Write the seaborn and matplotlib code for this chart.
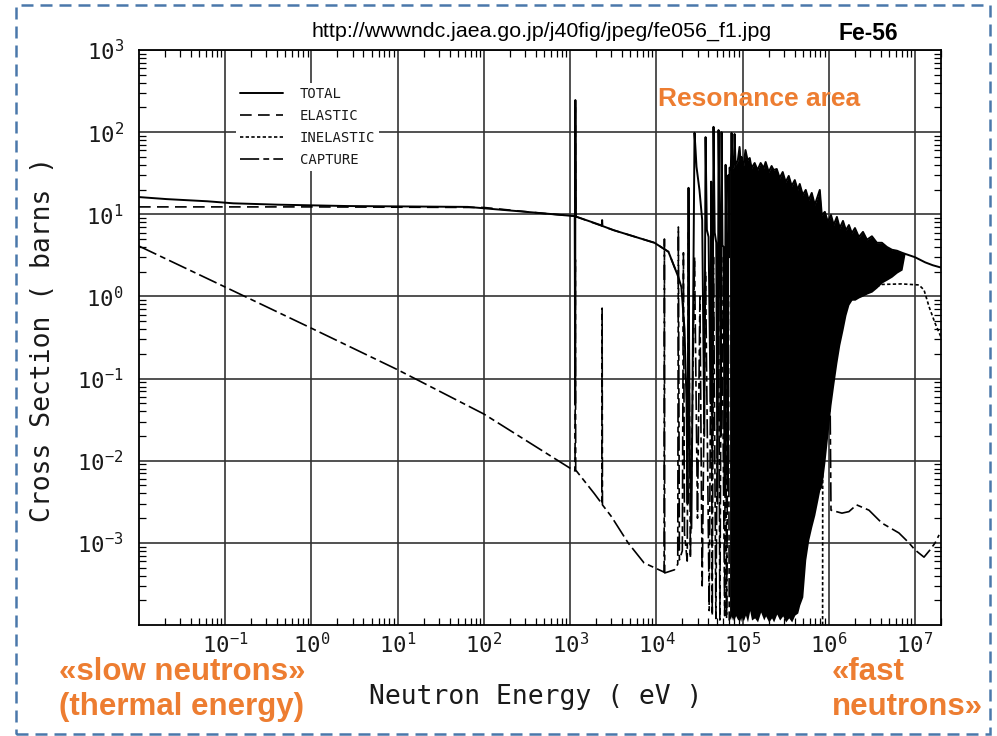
import numpy as np
import matplotlib
matplotlib.use("Agg")
import matplotlib.pyplot as plt
from matplotlib import ticker
from matplotlib.patches import Rectangle
import seaborn as sns

# ---------------- Fe-56 neutron cross sections (energy in eV, sigma in barns) -------------

# total, thermal / epithermal range up to the 24 keV window
total_low_e = [1e-2, 2.1e-2, 6.2e-2, 0.124, 0.40, 2.6, 65, 425, 1.0e3, 1.13e3, 1.145e3, 1.15e3, 1.16e3,
               2.33e3, 2.35e3, 2.37e3, 3.2e3, 9.5e3, 1.38e4, 1.62e4, 1.8e4, 1.95e4]
total_low_xs = [16.2, 15.3, 14.4, 13.6, 13.1, 12.6, 12.3, 10.4, 9.6, 9.5, 0.05, 246, 9.4,
                7.3, 8.5, 7.2, 6.4, 4.5, 3.5, 2.28, 1.72, 1.30]

# total, resolved resonances 20 - 70 keV (interference dips and peaks)
res_e = [2.12e4, 2.24e4, 2.30e4, 2.36e4, 2.42e4, 2.55e4, 2.77e4, 2.85e4, 2.92e4, 3.16e4,
         3.40e4, 3.60e4, 3.72e4, 3.85e4, 4.03e4, 4.25e4, 4.32e4, 4.45e4, 4.60e4, 4.75e4,
         4.95e4, 5.12e4, 5.26e4, 5.45e4, 5.58e4, 5.70e4, 5.85e4, 6.01e4, 6.20e4, 6.35e4,
         6.52e4, 6.70e4, 6.85e4, 7.00e4]
res_xs = [0.40, 0.05, 0.003, 21, 0.02, 0.0015, 98, 60, 38, 19.8,
          8.5, 0.02, 87, 6.5, 5.3, 0.05, 25, 0.01, 116, 6.0,
          4.5, 0.003, 106, 4.2, 0.02, 100, 4.2, 4.0, 0.004, 40,
          3.0, 0.005, 30, 3.0]

# dense resonance band 70 keV - 7.7 MeV: upper and lower envelope of the oscillations
core_e = [7.06e4, 7.30e4, 7.45e4, 7.60e4, 7.90e4, 8.07e4, 8.30e4, 8.80e4, 9.22e4, 9.50e4,
          9.73e4, 1.00e5,
          1.03e5, 1.08e5, 1.14e5, 1.21e5, 1.27e5, 1.38e5, 1.49e5, 1.62e5, 1.76e5, 1.85e5,
          2.01e5, 2.17e5, 2.29e5, 2.49e5, 2.69e5, 2.92e5, 3.16e5, 3.43e5, 3.71e5, 4.03e5,
          4.36e5, 4.60e5, 4.99e5, 5.40e5, 5.85e5, 6.34e5, 6.88e5, 7.45e5, 7.86e5, 8.29e5,
          8.99e5, 9.74e5, 1.06e6, 1.14e6, 1.24e6, 1.34e6, 1.46e6, 1.58e6, 1.71e6, 1.85e6,
          2.01e6, 2.23e6, 2.49e6, 2.77e6, 3.16e6, 3.61e6, 4.13e6, 4.72e6, 5.40e6, 6.18e6,
          7.07e6, 7.66e6]
core_hi = [37, 35, 98, 36, 38, 95, 40, 45, 66, 42,
           50, 40,
           39.8, 60.6, 45.8, 48.4, 36.6, 42.1, 34.6, 42.1, 36.6, 43.3,
           32.7, 38.7, 34.6, 35.6, 27.7, 32.7, 24.7, 29.3, 22.1, 26.1,
           19.8, 23.4, 17.2, 19.8, 14.9, 18.2, 13.0, 16.7, 19.8, 9.8,
           10.7, 8.1, 9.8, 7.4, 9.3, 6.8, 8.3, 6.4, 7.4, 5.9,
           6.8, 5.3, 6.1, 4.9, 5.4, 4.5, 4.5, 4.0, 3.7, 3.6,
           3.4, 3.3]
core_lo = [1.2e-4, 1.3e-4, 1.15e-4, 1.25e-4, 1.1e-4, 1.2e-4, 1.3e-4, 1.15e-4, 1.2e-4, 1.1e-4,
           1.25e-4, 1.15e-4,
           1.15e-4, 1.32e-4, 1.09e-4, 1.5e-4, 1.15e-4, 1.22e-4, 1.09e-4, 1.44e-4, 1.15e-4, 1.29e-4,
           1.09e-4, 1.22e-4, 1.09e-4, 1.36e-4, 1.15e-4, 1.29e-4, 1.09e-4, 1.22e-4, 1.09e-4, 1.32e-4,
           1.40e-4, 1.75e-4, 2.2e-4, 6.2e-4, 1.08e-3, 1.56e-3, 2.18e-3, 3.3e-3, 4.4e-3, 4.8e-3,
           9.4e-3, 0.0206, 0.0476, 0.0835, 0.155, 0.256, 0.39, 0.59, 0.79, 0.90,
           0.90, 0.96, 1.01, 1.07, 1.13, 1.27, 1.46, 1.58, 1.72, 1.93,
           2.1, 3.3]

# total, smooth fast-neutron range
fast_e = [1.0e7, 1.31e7, 1.6e7, 1.9e7, 2.0e7]
fast_xs = [3.0, 2.6, 2.4, 2.28, 2.25]

# elastic scattering
elastic_e = [1e-2, 0.1, 1, 10, 100, 425, 1.0e3, 1.14e3, 1.15e3, 1.16e3, 3.2e3, 9.5e3, 1.38e4, 1.62e4, 1.8e4]
elastic_xs = [12.3, 12.3, 12.3, 12.2, 12.1, 10.4, 9.6, 9.5, 240, 9.4, 6.4, 4.5, 3.5, 2.28, 1.72]

# inelastic scattering (threshold 847 keV)
inelastic_e = [8.47e5, 8.5e5, 9.0e5, 1.2e6, 1.6e6, 2.2e6, 3.0e6, 4.13e6, 7.0e6, 1.11e7, 1.27e7, 1.46e7, 1.71e7, 2.0e7]
inelastic_xs = [1.0e-4, 0.01, 0.3, 0.6, 0.85, 1.0, 1.2, 1.4, 1.42, 1.38, 1.2, 0.74, 0.47, 0.32]

# radiative capture
capture_low_e = [1e-2, 0.1, 1, 10, 100, 500, 1.0e3, 1.14e3, 1.15e3, 1.16e3, 1.9e3, 2.33e3, 2.35e3, 2.37e3, 3.0e3,
                 4.7e3, 7.2e3, 1.23e4, 1.24e4, 1.25e4, 1.62e4, 1.77e4, 1.80e4, 1.85e4, 2.00e4]
capture_low_xs = [4.1, 1.30, 0.41, 0.128, 0.037, 0.0128, 0.0081, 0.0075, 2.8, 0.0077, 0.0040, 0.0030, 0.72, 0.0029, 0.0021,
                  0.0010, 5.7e-4, 4.4e-4, 5.0, 4.3e-4, 4.7e-4, 5.5e-4, 7.0, 6.2e-4, 8.0e-4]
capture_res_e = [2.06e4, 2.12e4, 2.28e4, 2.36e4, 2.48e4, 2.77e4, 3.0e4, 3.2e4, 3.4e4, 3.72e4,
                 4.1e4, 4.32e4, 4.45e4, 4.60e4, 4.9e4, 5.26e4, 5.45e4, 5.70e4, 6.2e4, 6.35e4,
                 6.52e4, 6.85e4, 7.0e4, 1.03e6]
capture_res_xs = [3.4, 1.3e-3, 6.0e-4, 6.0, 6.5e-4, 3.0, 2.0e-3, 1.0, 3.0e-4, 2.0,
                  1.5e-4, 1.5, 1.3e-4, 3.0, 1.2e-4, 2.5, 1.15e-4, 3.0, 1.3e-4, 2.0,
                  1.2e-4, 1.0, 1.15e-4, 0.09]
capture_fast_e = [1.06e6, 1.42e6, 1.71e6, 2.10e6, 2.92e6, 4.13e6, 6.5e6, 8.5e6, 1.0e7, 1.27e7, 1.49e7, 1.71e7, 1.9e7]
capture_fast_xs = [0.0025, 0.0023, 0.0024, 0.0029, 0.0025, 0.00174, 0.00132, 1.0e-3, 8.2e-4, 6.7e-4, 8.2e-4, 1.0e-3, 1.25e-3]

# axis decades that carry a label
x_label_exponents = list(range(-1, 8))
y_label_exponents = list(range(-3, 4))

series_labels = ["TOTAL", "ELASTIC", "INELASTIC", "CAPTURE"]

# ---------------------------------------------------------------------------------------

total_e = total_low_e + res_e + core_e + fast_e
total_xs = total_low_xs + res_xs + core_hi + fast_xs
capture_e = capture_low_e + capture_res_e + capture_fast_e
capture_xs = capture_low_xs + capture_res_xs + capture_fast_xs

sns.set_theme(style="white")
plt.rcParams["font.family"] = ["DejaVu Sans Mono", "DejaVu Sans"]

ORANGE = "#ED7D31"
MONO = "DejaVu Sans Mono"
SANS = "Liberation Sans"

fig = plt.figure(figsize=(9.97, 7.36), dpi=100)
fig.patch.set_facecolor("white")
ax = fig.add_axes([139 / 997, 111 / 736, 802 / 997, 575 / 736])
ax.set_xscale("log")
ax.set_yscale("log")

# unresolved dense resonance band
ax.fill_between(core_e, core_lo, core_hi, color="black", lw=0, zorder=2)

line_kw = dict(ax=ax, color="black", sort=False, estimator=None, zorder=3)
sns.lineplot(x=total_e, y=total_xs, lw=1.4, linestyle="-", label=series_labels[0], **line_kw)
sns.lineplot(x=elastic_e, y=elastic_xs, lw=1.2, linestyle=(0, (7, 3.8)), label=series_labels[1], **line_kw)
sns.lineplot(x=inelastic_e, y=inelastic_xs, lw=1.2, linestyle=(0, (2.0, 1.4)), label=series_labels[2], **line_kw)
sns.lineplot(x=capture_e, y=capture_xs, lw=1.2, linestyle=(0, (11.5, 2.5, 3.5, 2.5)), label=series_labels[3], **line_kw)

ax.set_xlim(1e-2, 2e7)
ax.set_ylim(1e-4, 1e3)

ax.xaxis.set_major_locator(ticker.FixedLocator([10.0 ** k for k in x_label_exponents]))
ax.yaxis.set_major_locator(ticker.FixedLocator([10.0 ** k for k in y_label_exponents]))
ax.xaxis.set_minor_locator(ticker.LogLocator(base=10, subs=np.arange(2, 10), numticks=60))
ax.yaxis.set_minor_locator(ticker.LogLocator(base=10, subs=np.arange(2, 10), numticks=60))
decade_fmt = ticker.FuncFormatter(lambda v, pos: r"$\mathdefault{10^{%d}}$" % int(round(np.log10(v))))
ax.xaxis.set_major_formatter(decade_fmt)
ax.yaxis.set_major_formatter(decade_fmt)
ax.xaxis.set_minor_formatter(ticker.NullFormatter())
ax.yaxis.set_minor_formatter(ticker.NullFormatter())

ax.tick_params(which="both", direction="in", bottom=True, top=True, left=True, right=True)
ax.tick_params(which="major", length=0, labelsize=16, labelcolor="#1a1a1a")
ax.tick_params(which="minor", length=5, width=0.9, color="black")
ax.tick_params(axis="x", which="major", pad=5)
ax.tick_params(axis="y", which="major", pad=11)
for lab in ax.get_xticklabels() + ax.get_yticklabels():
    lab.set_family(MONO)

ax.set_axisbelow(True)
ax.grid(True, which="major", color="#333333", lw=1.2)
ax.grid(False, which="minor")
for sp in ax.spines.values():
    sp.set_color("black")
    sp.set_linewidth(1.3)

ax.set_xlabel("Neutron Energy ( eV )", fontsize=19, family=MONO, color="#1a1a1a", va="center")
ax.xaxis.set_label_coords(0.495, -0.125)
ax.set_ylabel("Cross Section ( barns )", fontsize=19, family=MONO, color="#1a1a1a", va="center")
ax.yaxis.set_label_coords(-0.12, 0.496)

leg = ax.legend(loc="upper left", bbox_to_anchor=(0.121, 0.943), frameon=True, framealpha=1,
                facecolor="white", edgecolor="none", fancybox=False,
                prop={"family": MONO, "size": 10}, handlelength=3.1, handletextpad=1.2,
                labelspacing=0.57, borderpad=0.3, borderaxespad=0)
for t in leg.get_texts():
    t.set_color("#1a1a1a")

# header and annotations
fig.text(542 / 997, 1 - 37 / 736, "http://wwwndc.jaea.go.jp/j40fig/jpeg/fe056_f1.jpg",
         ha="center", va="baseline", fontsize=15.4, family=SANS, color="black")
fig.text(838 / 997, 1 - 39.5 / 736, "Fe-56", ha="left", va="baseline", fontsize=16.5,
         weight="bold", family=SANS, color="black")
fig.text(658 / 997, 1 - 106.5 / 736, "Resonance area", ha="left", va="baseline", fontsize=19,
         weight="bold", family=SANS, color=ORANGE)
fig.text(59 / 997, 1 - 680 / 736, "«slow neutrons»", ha="left", va="baseline", fontsize=22.5,
         weight="bold", family=SANS, color=ORANGE)
fig.text(59 / 997, 1 - 715 / 736, "(thermal energy)", ha="left", va="baseline", fontsize=22.5,
         weight="bold", family=SANS, color=ORANGE)
fig.text(832 / 997, 1 - 680 / 736, "«fast", ha="left", va="baseline", fontsize=22.5,
         weight="bold", family=SANS, color=ORANGE)
fig.text(832 / 997, 1 - 715 / 736, "neutrons»", ha="left", va="baseline", fontsize=22.5,
         weight="bold", family=SANS, color=ORANGE)

# dashed slide frame
fig.patches.append(Rectangle((16 / 997, 2 / 736), 974 / 997, 729 / 736, transform=fig.transFigure,
                             fill=False, edgecolor="#4a78ab", lw=1.8, linestyle=(0, (4.8, 2.8))))

fig.savefig("out.png", dpi=100, facecolor="white")
